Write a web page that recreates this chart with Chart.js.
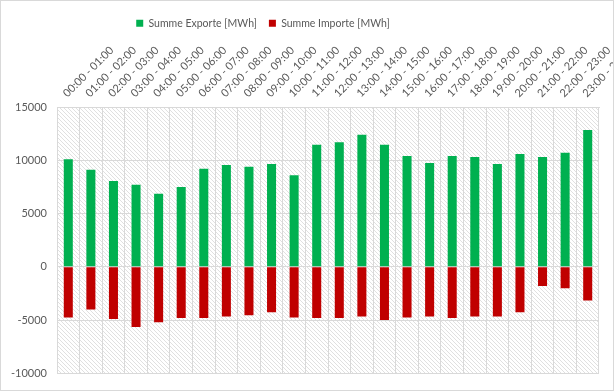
<!DOCTYPE html>
<html>
<head>
<meta charset="utf-8">
<script src="https://cdn.jsdelivr.net/npm/chart.js@4/dist/chart.umd.min.js"></script>
<style>
  html, body { margin: 0; padding: 0; background: #fff; }
  #wrap { width: 612px; height: 389px; border: 1px solid #d9d9d9; }
</style>
</head>
<body>
<div id="wrap"><canvas id="chart" width="612" height="389"></canvas></div>
<script>
const hours = [
    '00:00 - 01:00', '01:00 - 02:00', '02:00 - 03:00', '03:00 - 04:00',
    '04:00 - 05:00', '05:00 - 06:00', '06:00 - 07:00', '07:00 - 08:00',
    '08:00 - 09:00', '09:00 - 10:00', '10:00 - 11:00', '11:00 - 12:00',
    '12:00 - 13:00', '13:00 - 14:00', '14:00 - 15:00', '15:00 - 16:00',
    '16:00 - 17:00', '17:00 - 18:00', '18:00 - 19:00', '19:00 - 20:00',
    '20:00 - 21:00', '21:00 - 22:00', '22:00 - 23:00', '23:00 - 24:00'
];
const exporte = [10100, 9100, 8050, 7700, 6850, 7500, 9200, 9550, 9400, 9650, 8600, 11450,
    11700, 12400, 11450, 10400, 9750, 10400, 10300, 9650, 10600, 10300, 10700, 12850];
const importe = [-4750, -4000, -4900, -5650, -5200, -4800, -4800, -4650, -4550, -4250, -4750, -4800,
    -4800, -4650, -5000, -4750, -4650, -4800, -4650, -4650, -4250, -1800, -2000, -3150];
const yTicks = [-10000, -5000, 0, 5000, 10000, 15000];

const font = { family: 'Lato, "Open Sans", sans-serif', size: 11 };
const legendFont = { family: 'Lato, "Open Sans", sans-serif', size: 10.5 };
const grey = '#595959';
const gridColor = '#d9d9d9';

// diagonal hatch in the plot area
function makeHatch() {
    const c = document.createElement('canvas');
    c.width = 4; c.height = 4;
    const g = c.getContext('2d');
    g.fillStyle = '#ffffff';
    g.fillRect(0, 0, 4, 4);
    g.fillStyle = '#e0e0e0';
    for (let i = 0; i < 4; i++) g.fillRect(i, i, 1, 1);
    return g.createPattern(c, 'repeat');
}

const hatchPlugin = {
    id: 'hatch',
    beforeDraw(chart) {
        const { ctx, chartArea: a } = chart;
        // legend sits left of centre in the original
        chart.legend.right = chart.width - 88;
        ctx.save();
        ctx.fillStyle = makeHatch();
        ctx.fillRect(a.left, a.top, a.right - a.left, a.bottom - a.top);
        ctx.restore();
    }
};

new Chart(document.getElementById('chart'), {
    type: 'bar',
    data: {
        labels: hours,
        datasets: [
            { label: 'Summe Exporte [MWh]', data: exporte, backgroundColor: '#00b050' },
            { label: 'Summe Importe [MWh]', data: importe, backgroundColor: '#c00000' }
        ]
    },
    plugins: [hatchPlugin],
    options: {
        responsive: false,
        animation: false,
        layout: { padding: { left: 0, right: 14, top: 5, bottom: 13 } },
        datasets: { bar: { barPercentage: 0.4, categoryPercentage: 1 } },
        plugins: {
            legend: {
                position: 'top',
                labels: { color: grey, font: legendFont, boxWidth: 7, boxHeight: 7, padding: 12 }
            },
            tooltip: { enabled: false }
        },
        scales: {
            x: {
                position: 'top',
                stacked: true,
                grid: { color: gridColor, drawTicks: false, offset: true },
                border: { color: gridColor },
                ticks: { color: grey, font: font, minRotation: 45, maxRotation: 45, padding: 7, labelOffset: 6, autoSkip: false },
                afterFit(scale) {
                    scale.paddingRight = 0;
                    scale.paddingLeft = 0;
                    scale.height = 68.5;
                }
            },
            y: {
                stacked: true,
                min: -10000,
                max: 15000,
                afterBuildTicks(scale) { scale.ticks = yTicks.map(v => ({ value: v })); },
                grid: { color: gridColor, drawTicks: false },
                border: { color: gridColor },
                ticks: { color: grey, font: font, padding: 10, callback: v => String(v) },
                afterFit(scale) { scale.width = 56; }
            }
        }
    }
});
</script>
</body>
</html>
